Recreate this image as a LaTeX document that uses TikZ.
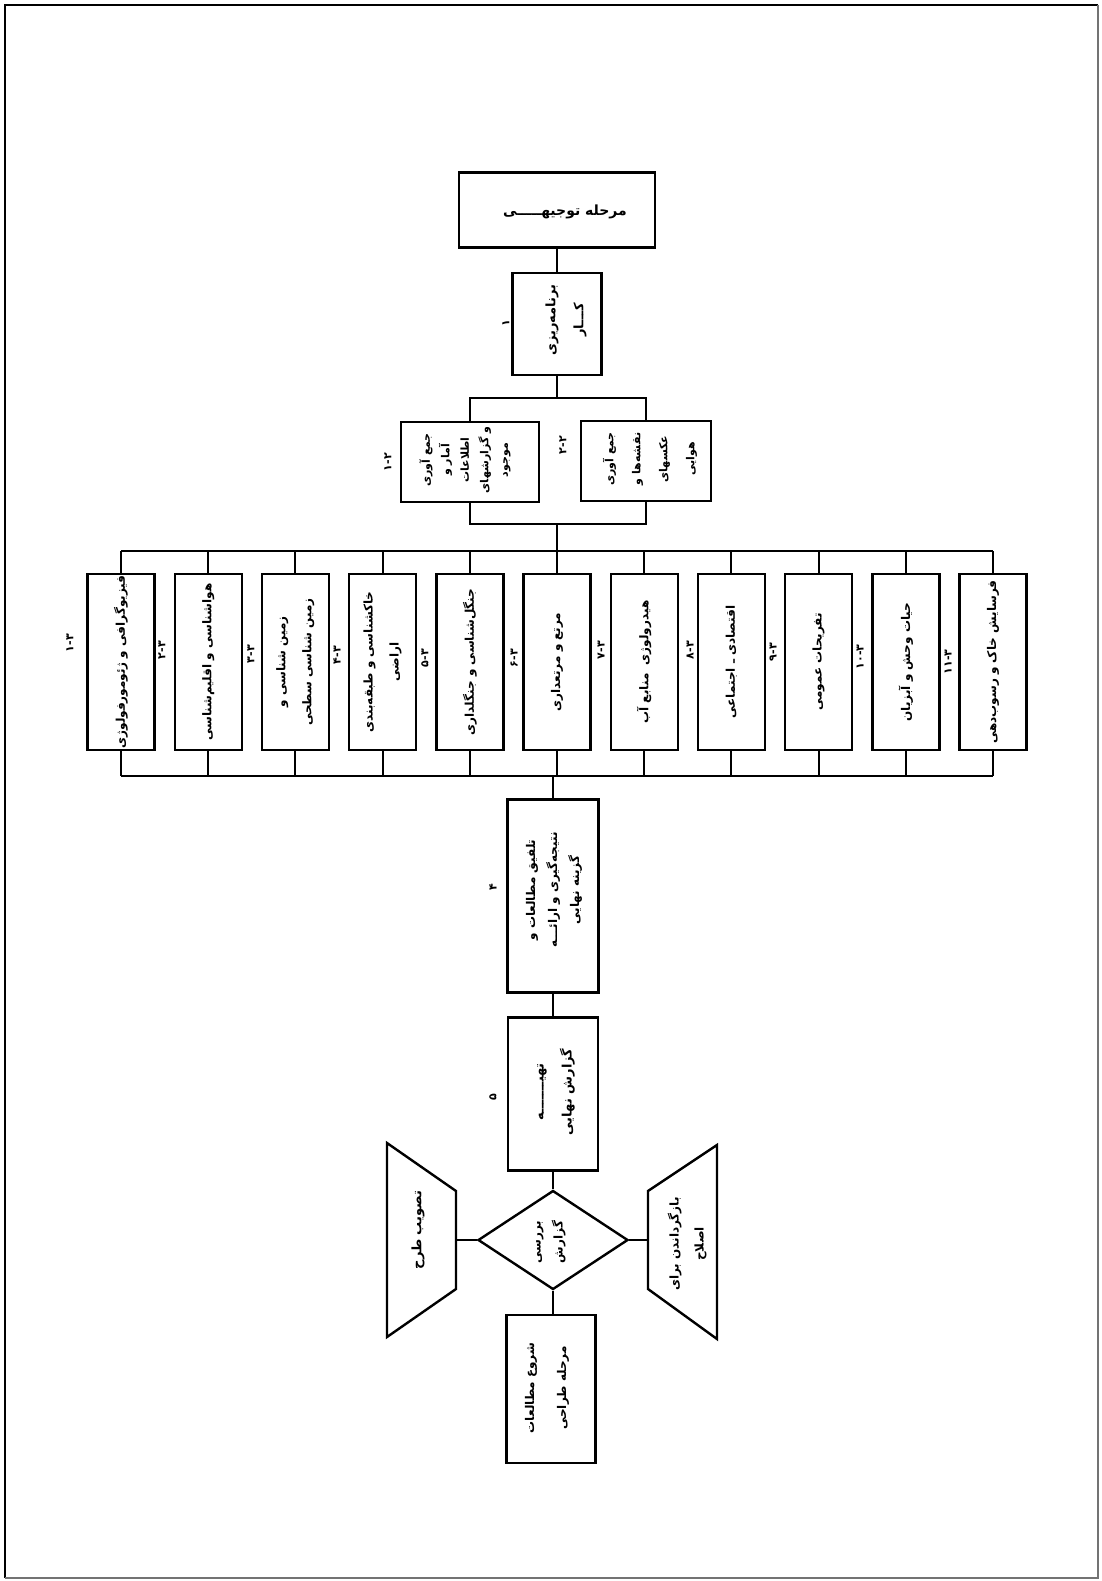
\documentclass[tikz,border=0pt]{standalone}
\usepackage{fontspec}
\newfontfamily\fa[Script=Arabic]{DejaVu Sans}
\TeXXeTstate=1
\usetikzlibrary{shapes.geometric}
\begin{document}
\begin{tikzpicture}[x=1pt,y=-1pt,
  box/.style={draw, line width=2.4pt, inner sep=0pt},
  shp/.style={draw, line width=2.4pt, line join=miter},
  conn/.style={line width=2pt},
  txt/.style={rotate=90, align=center, inner sep=0pt, font=\fa\bfseries\fontsize{12}{26}\selectfont},
  htxt/.style={align=center, inner sep=0pt, font=\fa\bfseries\fontsize{14}{20}\selectfont},
  lbl/.style={rotate=90, inner sep=0pt, font=\fa\bfseries\fontsize{11}{13}\selectfont}]
\useasboundingbox (0,0) rectangle (1101,1581);
\fill[white] (0,0) rectangle (1101,1581);
% page frame
\draw[line width=2.4pt] (1098,5) -- (5,5) -- (5,1578);
\draw[line width=1.6pt, black!55] (1098,5) -- (1098,1578) -- (5,1578);

% top
\node[box, minimum width=196pt, minimum height=75pt] (A) at (557,210) {};
\node[htxt] (At) at (565,212) {\beginR مرحله توجیهـــــی\endR};

\node[box, minimum width=89pt, minimum height=102pt] (B) at (557,324) {};
\node[txt, font=\fa\bfseries\fontsize{13}{28}\selectfont] (Bt) at (566,320) {\beginR برنامه‌ریزی\endR\\\beginR کـــار\endR};
\node[lbl] (lB) at (506,323) {۱};

% second row
\node[box, minimum width=138pt, minimum height=80pt] (C1) at (470,462) {};
\node[txt, font=\fa\bfseries\fontsize{11}{19.5}\selectfont] (C1t) at (465,460) {\beginR جمع آوری\endR\\\beginR آمار و\endR\\\beginR اطلاعات\endR\\\beginR و گزارشهای\endR\\\beginR موجود\endR};
\node[lbl] (lC1) at (388,462) {۱-۲};

\node[box, minimum width=130pt, minimum height=80pt] (C2) at (646,461) {};
\node[txt, font=\fa\bfseries\fontsize{11}{27}\selectfont] (C2t) at (650,459) {\beginR جمع آوری\endR\\\beginR نقشه‌ها و\endR\\\beginR عکسهای\endR\\\beginR هوایی\endR};
\node[lbl] (lC2) at (563,445) {۲-۲};

\coordinate (br1) at (557,398);
\coordinate (br2) at (557,524);
\draw[conn] (A.south) -- (B.north);
\draw[conn] (B.south) -- (br1);
\draw[conn] (C1.north) |- (br1) -| (C2.north);
\draw[conn] (C1.south) |- (br2) -| (C2.south);

% middle row
\coordinate (tb) at (0,551);
\coordinate (bb) at (0,776);
\foreach \i in {1,...,11} {
  \node[box, minimum width=67pt, minimum height=176pt] (m\i) at ({121+(\i-1)*87.2},662) {};
  \draw[conn] (m\i.north) -- (m\i.north |- tb);
  \draw[conn] (m\i.south) -- (m\i.south |- bb);
}
\draw[conn] (m1.north |- tb) -- (m11.north |- tb);
\draw[conn] (m1.south |- bb) -- (m11.south |- bb);
\draw[conn] (br2) -- (br2 |- tb);

\node[txt] (m1t) at (m1) {\beginR فیزیوگرافی و ژئومورفولوژی\endR};
\node[txt] (m2t) at (m2) {\beginR هواشناسی و اقلیم‌شناسی\endR};
\node[txt] (m3t) at (m3) {\beginR زمین شناسی و\endR\\\beginR زمین شناسی سطحی\endR};
\node[txt] (m4t) at (m4) {\beginR خاکشناسی و طبقه‌بندی\endR\\\beginR اراضی\endR};
\node[txt] (m5t) at (m5) {\beginR جنگل‌شناسی و جنگلداری\endR};
\node[txt] (m6t) at (m6) {\beginR مرتع و مرتعداری\endR};
\node[txt] (m7t) at (m7) {\beginR هیدرولوژی \ منابع آب\endR};
\node[txt] (m8t) at (m8) {\beginR اقتصادی ـ اجتماعی\endR};
\node[txt] (m9t) at (m9) {\beginR تفریحات عمومی\endR};
\node[txt] (m10t) at (m10) {\beginR حیات وحش و آبزیان\endR};
\node[txt] (m11t) at (m11) {\beginR فرسایش خاک و رسوب‌دهی\endR};

\node[lbl] (lm1) at (70,643) {۱-۳};
\node[lbl] (lm2) at (162,650) {۲-۳};
\node[lbl] (lm3) at (251,654) {۳-۳};
\node[lbl] (lm4) at (337,655) {۴-۳};
\node[lbl] (lm5) at (425,658) {۵-۳};
\node[lbl] (lm6) at (514,658) {۶-۳};
\node[lbl] (lm7) at (601,650) {۷-۳};
\node[lbl] (lm8) at (690,650) {۸-۳};
\node[lbl] (lm9) at (773,652) {۹-۳};
\node[lbl] (lm10) at (860,657) {۱۰-۳};
\node[lbl] (lm11) at (948,662) {۱۱-۳};

% lower part
\node[box, minimum width=91pt, minimum height=193pt] (D) at (553,896) {};
\node[txt, font=\fa\bfseries\fontsize{12}{22}\selectfont] (Dt) at (554,890) {\beginR تلفیق مطالعات و\endR\\\beginR نتیجه‌گیری و ارائـــه\endR\\\beginR گزینه نهایی\endR};
\node[lbl] (lD) at (493,887) {۴};

\node[box, minimum width=90pt, minimum height=153pt] (E) at (553,1094) {};
\node[txt, font=\fa\bfseries\fontsize{13}{28}\selectfont] (Et) at (556,1092) {\beginR تهیـــــــه\endR\\\beginR گزارش نهایی\endR};
\node[lbl] (lE) at (493,1097) {۵};

\node[draw, diamond, line width=2.4pt, minimum width=150pt, minimum height=99pt, inner sep=0pt] (F) at (553,1240) {};
\node[txt, font=\fa\bfseries\fontsize{12}{22}\selectfont] (Ft) at (551,1242) {\beginR بررسی\endR\\\beginR گزارش\endR};

\node[box, minimum width=89pt, minimum height=148pt] (I) at (551,1389) {};
\node[txt, font=\fa\bfseries\fontsize{12}{32}\selectfont] (It) at (547,1388) {\beginR شروع مطالعات\endR\\\beginR مرحله طراحی\endR};

\draw[conn] (D.north) -- (D.north |- bb);
\draw[conn] (D.south) -- (E.north);
\draw[conn] (E.south) -- (F.north);
\draw[conn] (F.south) -- (F.south |- I.north);

% left trapezoid
\coordinate (gR) at (456,1240);
\draw[shp] (387,1143) -- (456,1191) -- (456,1289) -- (387,1337) -- cycle;
\node[txt, font=\fa\bfseries\fontsize{13}{26}\selectfont] (Gt) at (418,1230) {\beginR تصویب طرح\endR};
\draw[conn] (F.west) -- (gR);

% right trapezoid
\coordinate (hL) at (648,1240);
\draw[shp] (648,1191) -- (717,1145) -- (717,1339) -- (648,1289) -- cycle;
\node[txt, font=\fa\bfseries\fontsize{12}{25}\selectfont] (Ht) at (687,1244) {\beginR بازگرداندن برای\endR\\\beginR اصلاح\endR};
\draw[conn] (F.east) -- (hL);
\end{tikzpicture}
\end{document}
